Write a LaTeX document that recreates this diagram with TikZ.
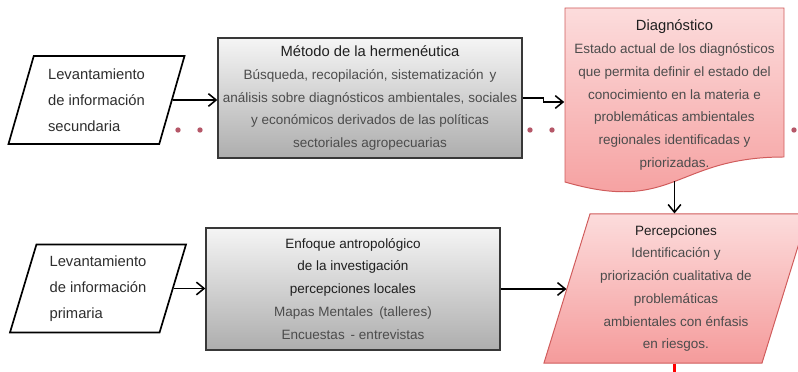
\documentclass[tikz,border=0pt]{standalone}
\usepackage{fontspec}
\setmainfont{Liberation Sans}
\usetikzlibrary{arrows.meta,calc,shapes.geometric}

\definecolor{rosaclaro}{RGB}{252,220,220}
\definecolor{rosafuerte}{RGB}{245,155,155}
\definecolor{bordero}{RGB}{208,92,92}
\definecolor{granate}{RGB}{168,58,78}

\newcommand{\titulo}[1]{{\fontsize{10.5}{16.3}\selectfont\color{black!88}#1}}

\begin{document}
\begin{tikzpicture}[x=0.025cm,y=-0.025cm,->,>={Straight Barb[length=5.5pt,width=9pt]},
    line width=1.1pt,
    datos/.style={trapezium,trapezium left angle=68,trapezium right angle=112,
      trapezium stretches body,draw,fill=white,line width=1.2pt,
      minimum width=4.4cm,minimum height=2.2cm,inner sep=0pt,align=left,
      font=\fontsize{10.5}{18.4}\selectfont,text=black!82},
    metodo/.style={rectangle,draw=black!78,line width=0.9pt,top color=black!4,
      bottom color=black!32,align=center,font=\fontsize{9.6}{16.3}\selectfont,
      text=black!70},
    documento/.style={-,draw=bordero,line width=0.7pt,top color=rosaclaro,
      bottom color=rosafuerte},
    resultado/.style={trapezium,trapezium left angle=70,trapezium right angle=110,
      trapezium stretches body,draw=bordero,line width=0.7pt,top color=rosaclaro,
      bottom color=rosafuerte,minimum width=6.6cm,minimum height=3.725cm,
      inner sep=0pt,align=center,font=\fontsize{9.6}{16.2}\selectfont,text=black!70},
    punto/.style={-,fill=granate,draw=none}]

  \useasboundingbox (0,0) rectangle (798,372);

  % linea de puntos detras de las cajas
  \foreach \x in {156,178,...,794}
    \fill[punto,opacity=0.85] (\x,130) circle (1.9pt);
  \fill[white,opacity=0.6] (156,130) circle (2.3pt);

  \node[datos] (sec) at (96.5,100) {Levantamiento\\de información\\secundaria};
  \node[datos] (pri) at (98,288.5) {Levantamiento\\de información\\primaria};

  \node[metodo,minimum width=7.6cm,minimum height=3cm] (herm) at (370,98)
    {\titulo{Método de la hermenéutica}\\
     Búsqueda, recopilación, sistematización\, y\\
     análisis sobre diagnósticos ambientales, sociales\\
     y económicos derivados de las políticas\\
     sectoriales agropecuarias};

  \node[metodo,minimum width=7.35cm,minimum height=3.05cm] (antro) at (353,289)
    {{\color{black!88}Enfoque antropológico}\\
     {\color{black!88}de la investigación}\\
     {\color{black!88}percepciones locales}\\
     Mapas Mentales\, (talleres)\\
     Encuestas\, - entrevistas};

  \path[documento] (565,8) -- (784,8) -- (784,157)
    .. controls (674.5,157) and (674.5,214) .. (565,182) -- cycle;
  \node[minimum width=5.475cm,minimum height=4.35cm,inner sep=0pt,align=center,
    font=\fontsize{9.6}{16.3}\selectfont,text=black!70] (diag) at (674.5,95)
    {\titulo{Diagnóstico}\\
     Estado actual de los diagnósticos\\
     que permita definir el estado del\\
     conocimiento en la materia e\\
     problemáticas ambientales\\
     regionales identificadas y\\
     priorizadas.};
  \coordinate (diagbot) at (674.5,181.5);

  \node[resultado] (perc) at (676,288.5)
    {{\color{black!88}Percepciones}\\
     Identificación y\\
     priorización cualitativa de\\
     problemáticas\\
     ambientales con énfasis\\
     en riesgos.};
  \coordinate (salida) at (674.5,378);

  \draw (sec.east) -- (sec.east -| herm.west);
  \draw (herm.east) -- ++(21,0) |- ($(diag.west)+(0,7)$);
  \draw (diagbot) -- (diagbot |- perc.north);
  \draw (pri.east) -- (pri.east -| antro.west);
  \draw (antro.east) -- (antro.east -| perc.west);
  \draw[-,red,line width=2.2pt] (diagbot |- perc.south) -- (salida);
\end{tikzpicture}
\end{document}
